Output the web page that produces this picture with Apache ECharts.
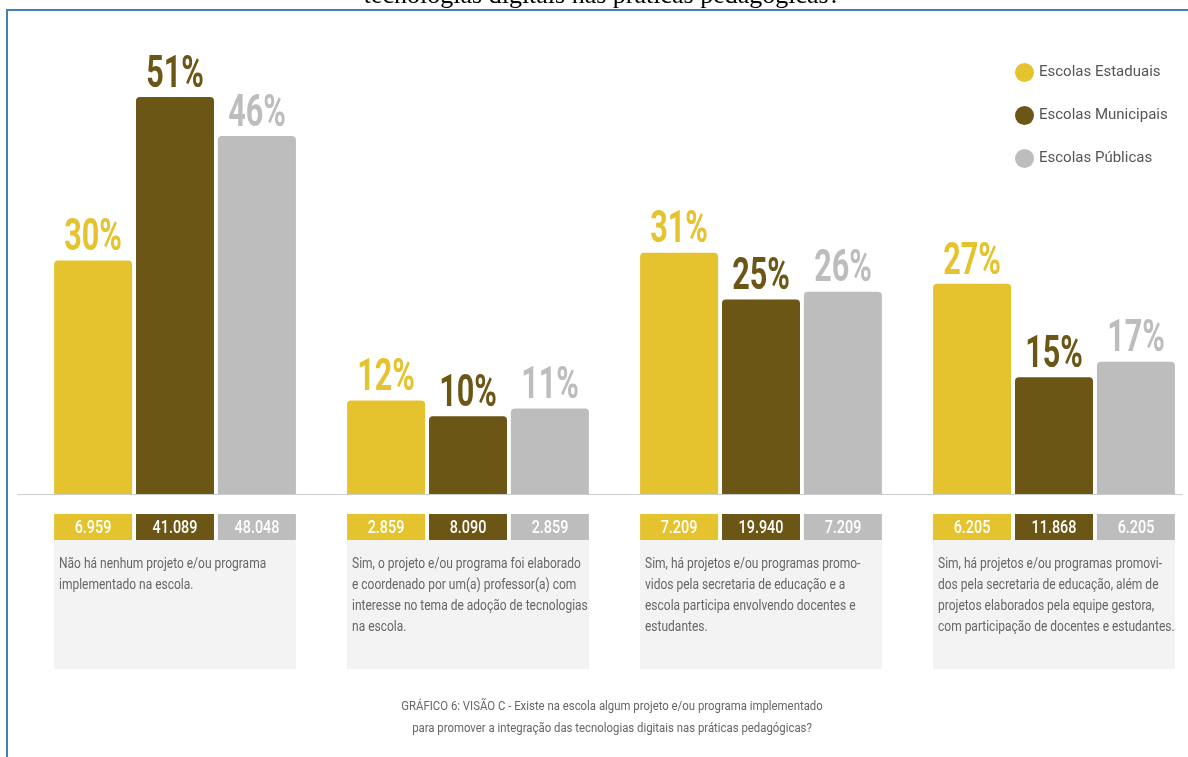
<!DOCTYPE html>
<html>
<head>
<meta charset="utf-8">
<script src="https://cdn.jsdelivr.net/npm/echarts@6/dist/echarts.min.js"></script>
<style>
html,body{margin:0;padding:0;background:#fff;}
#c{width:1188px;height:757px;}
</style>
</head>
<body>
<div id="c"></div>
<script>
const categories = [
  'Não há nenhum projeto e/ou programa\nimplementado na escola.',
  'Sim, o projeto e/ou programa foi elaborado\ne coordenado por um(a) professor(a) com\ninteresse no tema de adoção de tecnologias\nna escola.',
  'Sim, há projetos e/ou programas promo-\nvidos pela secretaria de educação e a\nescola participa envolvendo docentes e\nestudantes.',
  'Sim, há projetos e/ou programas promovi-\ndos pela secretaria de educação, além de\nprojetos elaborados pela equipe gestora,\ncom participação de docentes e estudantes.'
];
const seriesNames = ['Escolas Estaduais', 'Escolas Municipais', 'Escolas Públicas'];
const estaduais = [30, 12, 31, 27];
const municipais = [51, 10, 25, 15];
const publicas = [46, 11, 26, 17];
const countEstaduais = ['6.959', '2.859', '7.209', '6.205'];
const countMunicipais = ['41.089', '8.090', '19.940', '11.868'];
const countPublicas = ['48.048', '2.859', '7.209', '6.205'];
const caption = 'GRÁFICO 6: VISÃO C - Existe na escola algum projeto e/ou programa implementado\npara promover a integração das tecnologias digitais nas práticas pedagógicas?';
const topTitle = 'tecnologias digitais nas práticas pedagógicas?';

const colors = ['#e5c32f', '#6b5616', '#bdbdbd'];
const FONT = "Roboto, 'Open Sans', sans-serif";
const BAR_W = 78, BAR_STEP = 82, BOX_HALF = 121;

const chart = echarts.init(document.getElementById('c'));

const pctData = [estaduais, municipais, publicas];
const cntData = [countEstaduais, countMunicipais, countPublicas];

const mainSeries = pctData.map((d, i) => ({
  name: seriesNames[i],
  type: 'bar',
  xAxisIndex: 0, yAxisIndex: 0,
  data: d,
  barWidth: BAR_W,
  barGap: '5%',
  itemStyle: { color: colors[i], borderRadius: [4, 4, 0, 0] }
}));

const countSeries = cntData.map((d, i) => ({
  name: 'count' + i,
  type: 'bar',
  xAxisIndex: 1, yAxisIndex: 1,
  data: d.map(() => 26),
  barWidth: BAR_W,
  barGap: '5%',
  z: 3,
  itemStyle: { color: colors[i] }
}));

const descPad = {
  name: 'descPad', type: 'bar', xAxisIndex: 2, yAxisIndex: 1,
  stack: 'desc', data: categories.map(() => 26), barWidth: 242,
  itemStyle: { color: 'rgba(0,0,0,0)' }, silent: true
};
const descSeries = {
  name: 'desc', type: 'bar', xAxisIndex: 2, yAxisIndex: 1,
  stack: 'desc', data: categories.map(() => 129), barWidth: 242,
  itemStyle: { color: '#f3f3f3' }, silent: true
};

// condensed-looking text labels via custom series
const pctLabelData = [];
pctData.forEach((d, si) => d.forEach((v, ci) => pctLabelData.push([ci, v, si])));
const pctLabels = {
  name: 'pctLabels', type: 'custom', xAxisIndex: 0, yAxisIndex: 0, z: 10, silent: true,
  data: pctLabelData,
  renderItem: (params, api) => {
    const ci = api.value(0), v = api.value(1), si = api.value(2);
    const p = api.coord([ci, v]);
    return {
      type: 'text', x: p[0] + (si - 1) * BAR_STEP, y: p[1] + 1, scaleX: 0.68,
      style: { text: v + '%', fill: colors[si], font: 'bold 45px Roboto',
        align: 'center', verticalAlign: 'bottom', textAlign: 'center', textVerticalAlign: 'bottom' }
    };
  }
};

const cntLabelData = [];
cntData.forEach((d, si) => d.forEach((v, ci) => cntLabelData.push([ci, 13, si])));
const cntLabels = {
  name: 'cntLabels', type: 'custom', xAxisIndex: 1, yAxisIndex: 1, z: 10, silent: true,
  data: cntLabelData,
  renderItem: (params, api) => {
    const ci = api.value(0), si = api.value(2);
    const p = api.coord([ci, api.value(1)]);
    return {
      type: 'text', x: p[0] + (si - 1) * BAR_STEP, y: p[1] + 1, scaleX: 0.8,
      style: { text: cntData[si][ci], fill: '#fff', font: '500 18px Roboto',
        align: 'center', verticalAlign: 'middle', textAlign: 'center', textVerticalAlign: 'middle' }
    };
  }
};

const descLabels = {
  name: 'descLabels', type: 'custom', xAxisIndex: 2, yAxisIndex: 1, z: 10, silent: true,
  data: categories.map((c, i) => [i, 26]),
  renderItem: (params, api) => {
    const ci = api.value(0);
    const p = api.coord([ci, api.value(1)]);
    return {
      type: 'text', x: p[0] - BOX_HALF + 5, y: p[1] + 14, scaleX: 0.8,
      style: { text: categories[ci], fill: '#666', font: '15px Roboto', lineHeight: 21,
        align: 'left', verticalAlign: 'top', textAlign: 'left', textVerticalAlign: 'top' }
    };
  }
};

chart.setOption({
  animation: false,
  backgroundColor: '#fff',
  legend: {
    data: seriesNames,
    orient: 'vertical',
    left: 1010, top: 58,
    itemWidth: 19, itemHeight: 19, itemGap: 24,
    icon: 'circle',
    textStyle: { color: '#555', fontFamily: FONT, fontSize: 15 }
  },
  grid: [
    { left: 175, width: 879, top: 27, height: 467 },
    { left: 175, width: 879, top: 514, height: 155 },
    { left: 18, width: 1164, top: 493, height: 1 }
  ],
  xAxis: [
    { type: 'category', gridIndex: 0, data: categories, boundaryGap: false,
      axisLine: { show: false }, axisTick: { show: false }, axisLabel: { show: false } },
    { type: 'category', gridIndex: 1, data: categories, boundaryGap: false, show: false },
    { type: 'category', gridIndex: 1, data: categories, boundaryGap: false, show: false },
    { type: 'value', gridIndex: 2, min: 0, max: 1,
      axisLine: { show: true, lineStyle: { color: '#cccccc', width: 1 } },
      axisTick: { show: false }, axisLabel: { show: false }, splitLine: { show: false } }
  ],
  yAxis: [
    { type: 'value', gridIndex: 0, min: 0, max: 60, show: false, splitLine: { show: false } },
    { type: 'value', gridIndex: 1, min: 0, max: 155, inverse: true, show: false, splitLine: { show: false } },
    { type: 'value', gridIndex: 2, min: 0, max: 1, show: false, splitLine: { show: false } }
  ],
  graphic: [
    { type: 'text', x: 602, y: 9, silent: true,
      style: { text: topTitle, font: "26px 'Liberation Serif', serif", fill: '#000',
        align: 'center', verticalAlign: 'bottom', textAlign: 'center', textVerticalAlign: 'bottom' } },
    { type: 'rect', shape: { x: 7, y: 10, width: 1200, height: 800 },
      style: { fill: 'none', stroke: '#4a7ebb', lineWidth: 2 }, silent: true },
    { type: 'text', x: 612, y: 696, scaleX: 0.875, silent: true,
      style: { text: caption, fill: '#666', font: '13px Roboto', lineHeight: 22,
        align: 'center', verticalAlign: 'top', textAlign: 'center', textVerticalAlign: 'top' } }
  ],
  series: [...mainSeries, descPad, descSeries, ...countSeries, pctLabels, cntLabels, descLabels]
});
</script>
</body>
</html>
